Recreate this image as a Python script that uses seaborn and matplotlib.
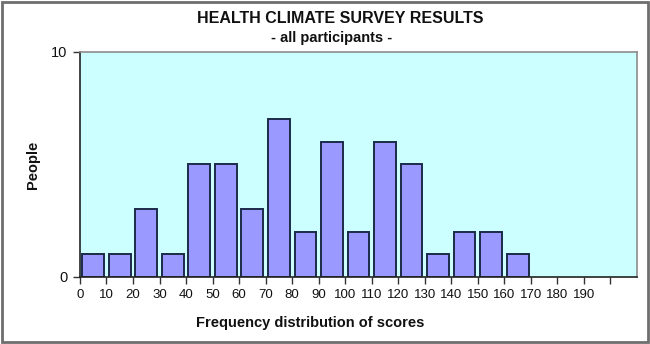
import matplotlib
matplotlib.use("Agg")
import matplotlib.pyplot as plt
from matplotlib.patches import Rectangle
import seaborn as sns
import numpy as np

# Score bins (lower edges) and number of people in each bin
bin_starts = [0, 10, 20, 30, 40, 50, 60, 70, 80, 90, 100, 110, 120, 130, 140, 150, 160]
people = [1, 1, 3, 1, 5, 5, 3, 7, 2, 6, 2, 6, 5, 1, 2, 2, 1]
tick_values = list(range(0, 210, 10))
tick_labels = [str(v) for v in range(0, 200, 10)] + [""]

sns.set_theme(style="white")
plt.rcParams["font.family"] = ["Liberation Sans", "DejaVu Sans"]

fig = plt.figure(figsize=(6.5, 3.44), dpi=100)
ax = fig.add_axes([0.123, 0.195, 0.857, 0.654])
ax.set_facecolor("#CCFFFF")

centers = np.array(bin_starts) + 5
sns.barplot(x=centers, y=people, native_scale=True, width=0.82,
            color="#9999FF", saturation=1, edgecolor="#1c2a4a",
            linewidth=1.4, ax=ax)

ax.set_xlim(0, 210)
ax.set_ylim(0, 10)
ax.set_xticks(tick_values)
ax.set_xticklabels(tick_labels, fontsize=9.5, color="#111111")
ax.set_yticks([0, 10])
ax.set_yticklabels(["0", "10"], fontsize=10.5, color="#111111")
ax.tick_params(axis="both", which="major", direction="out", length=5,
               width=1, color="#333333", bottom=True, left=True, pad=4)

for side in ["left", "bottom"]:
    ax.spines[side].set_color("#222222")
    ax.spines[side].set_linewidth(1.2)
for side in ["top", "right"]:
    ax.spines[side].set_color("#8c8c8c")
    ax.spines[side].set_linewidth(1.2)

ax.set_xlabel("")
ax.set_ylabel("")
fig.text(0.523, 0.947, "HEALTH CLIMATE SURVEY RESULTS", ha="center", va="center",
         fontsize=11.5, fontweight="bold", color="#111111")
fig.text(0.51, 0.890, "- all participants -", ha="center", va="center",
         fontsize=10.5, fontweight="bold", color="#111111")
fig.text(0.477, 0.06, "Frequency distribution of scores", ha="center", va="center",
         fontsize=10.5, fontweight="bold", color="#111111")
fig.text(0.051, 0.52, "People", ha="center", va="center", rotation=90,
         fontsize=10.5, fontweight="bold", color="#111111")

# Outer frame around the whole chart
fig.patches.append(Rectangle((0.003, 0.005), 0.994, 0.99, transform=fig.transFigure,
                             fill=False, edgecolor="#6e6e6e", linewidth=2))

fig.savefig("out.png", dpi=100, facecolor="white")
